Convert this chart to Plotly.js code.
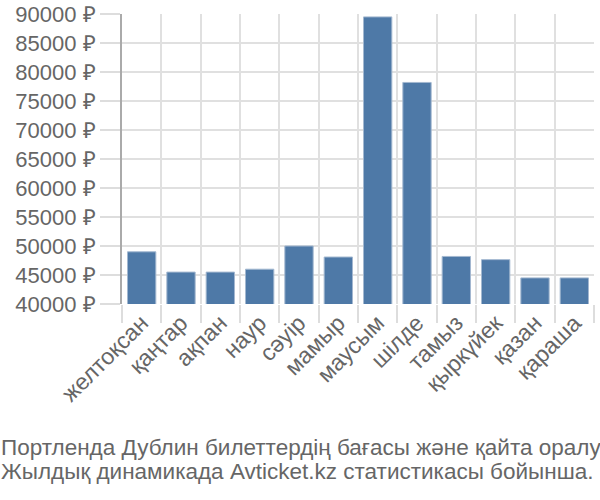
<!DOCTYPE html>
<html>
<head>
<meta charset="utf-8">
<script src="https://cdn.plot.ly/plotly-3.0.1.min.js"></script>
<style>html,body{margin:0;padding:0;background:#fff;}#chart{width:600px;height:500px;}</style>
</head>
<body>
<div id="chart"></div>
<script>
const months = ["желтоқсан","қаңтар","ақпан","наур","сәуір","мамыр","маусым","шілде","тамыз","қыркүйек","қазан","қараша"];
const prices = [49000, 45500, 45500, 46000, 50000, 48100, 89500, 78200, 48200, 47650, 44500, 44500];
const captionLines = ["Портленда Дублин билеттердің бағасы және қайта оралу", "Жылдық динамикада Avticket.kz статистикасы бойынша."];

const font = "Liberation Sans, Arial, sans-serif";
const plotH = 290;
const trace = {
  type: "bar",
  x: months,
  y: prices,
  base: 0,
  marker: {color: "#4e79a7", line: {color: "#a3b8d0", width: 1}},
  width: 0.72,
  hoverinfo: "none"
};
const layout = {
  width: 600, height: 500,
  margin: {l: 122, r: 6, t: 14, b: 196},
  paper_bgcolor: "#fff", plot_bgcolor: "#fff",
  showlegend: false,
  font: {family: font, color: "#666", size: 20},
  xaxis: {
    type: "category",
    tickson: "boundaries",
    ticks: "outside", ticklen: 18, tickcolor: "#ddd", tickwidth: 2,
    showgrid: true, gridcolor: "#e0e0e0", gridwidth: 2,
    tickangle: -45,
    tickfont: {family: font, size: 23, color: "#666"},
    showline: false, zeroline: false
  },
  yaxis: {
    range: [40000, 90000],
    dtick: 5000, tick0: 40000,
    tickformat: "d", ticksuffix: " ₽",
    ticks: "outside", ticklen: 20, tickcolor: "#ddd", tickwidth: 2,
    showgrid: true, gridcolor: "#e0e0e0", gridwidth: 2,
    showline: true, linecolor: "#aaa", linewidth: 2,
    zeroline: false,
    tickfont: {family: font, size: 22, color: "#666"}
  },
  annotations: captionLines.map((t, i) => ({
    text: t, xref: "paper", yref: "paper",
    x: -123/472, y: -((i === 0 ? 447 : 471) - 304) / plotH,
    xanchor: "left", yanchor: "middle", showarrow: false,
    font: {family: font, size: 22.5, color: "#666"}
  }))
};
Plotly.newPlot("chart", [trace], layout, {staticPlot: true});
</script>
</body>
</html>
